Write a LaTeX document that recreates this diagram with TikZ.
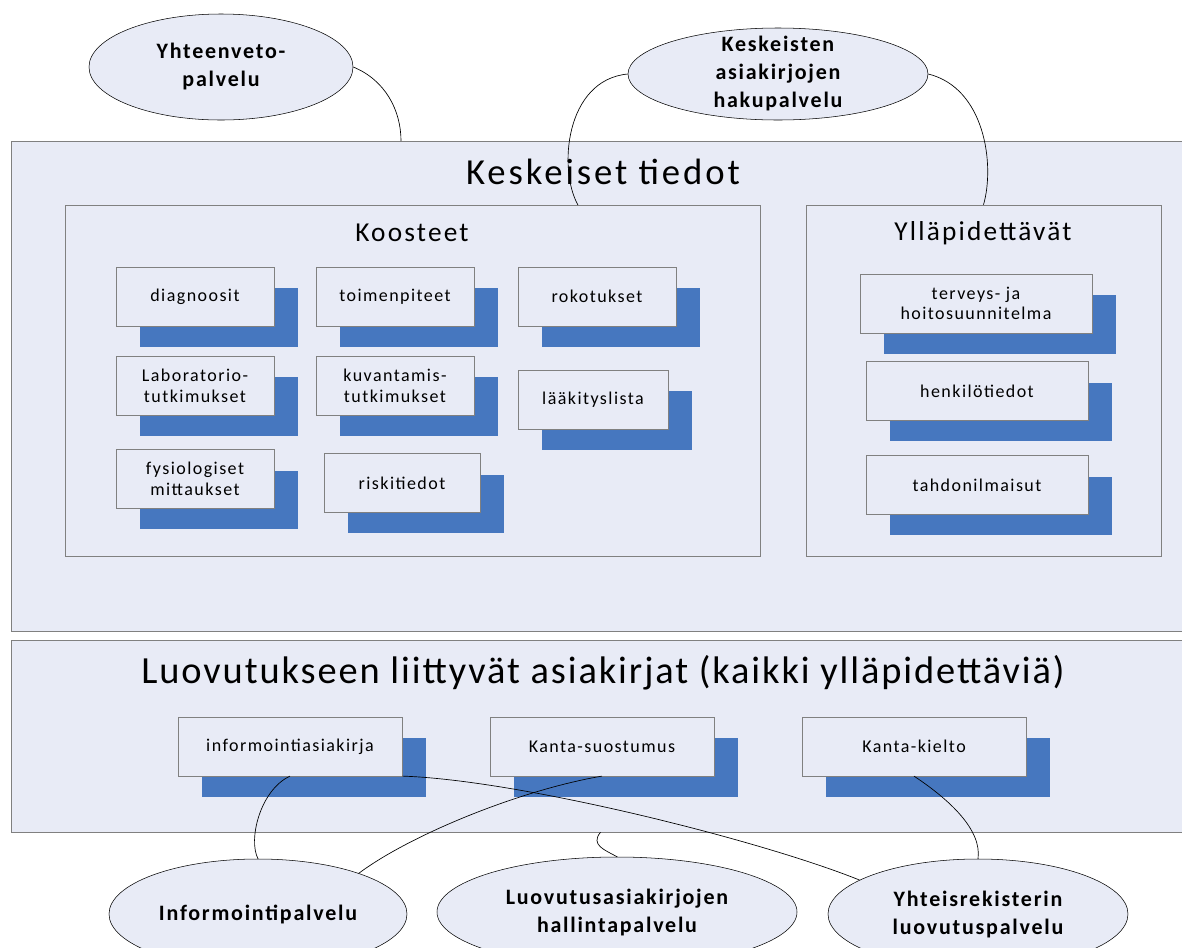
\documentclass[tikz,border=0pt]{standalone}
\usepackage{fontspec}
\setmainfont{Carlito}
\newfontfamily\spacedfont{Carlito}[LetterSpace=8]
\newfontfamily\titlefont{Carlito}[LetterSpace=5]
\usetikzlibrary{shapes.geometric,shadows}
\definecolor{paneblue}{RGB}{232,235,246}
\definecolor{shadeblue}{RGB}{70,119,191}
\definecolor{rimgray}{RGB}{128,128,128}

\begin{document}
\begin{tikzpicture}[x=0.75pt,y=0.75pt,yscale=-1,xscale=1,
    frame/.style={draw=rimgray, fill=paneblue, inner sep=0pt},
    card/.style={draw=rimgray, fill=paneblue, inner sep=1pt, align=center, minimum height=44pt, minimum width=118.5pt, font=\spacedfont\fontsize{13.5}{15.5}\selectfont, drop shadow={shadow xshift=18pt, shadow yshift=-15.75pt, fill=shadeblue, opacity=1}},
    service/.style={ellipse, draw=black, fill=paneblue, inner sep=0pt, align=center, font=\spacedfont\bfseries\fontsize{16.5}{21}\selectfont},
    heading/.style={inner sep=0pt, font=\spacedfont\fontsize{27.5}{32}\selectfont},
    subheading/.style={inner sep=0pt, font=\spacedfont\fontsize{20.5}{24}\selectfont},
    link/.style={draw=black, line width=0.5pt}]
    \useasboundingbox (0,0) rectangle (1182,947);

    %Frames
    \node[frame, minimum width=884.25pt, minimum height=367.5pt] (kesk) at (600.5,386) {};
    \node[frame, minimum width=884.25pt, minimum height=144pt] (luov) at (600.5,736) {};
    \node[frame, minimum width=521.25pt, minimum height=263.25pt] (koost) at (412.5,380.5) {};
    \node[frame, minimum width=266.25pt, minimum height=263.25pt] (yllap) at (983.5,380.5) {};

    % Text Node
    \node[heading] (keskt) at (603,172) {Keskeiset tiedot};
    \node[heading, font=\titlefont\fontsize{28.8}{32}\selectfont] (luovt) at (603,673) {Luovutukseen liittyvät asiakirjat (kaikki ylläpidettäviä)};
    \node[subheading] (koostt) at (412,233) {Koosteet};
    \node[subheading] (yllapt) at (983,233) {Ylläpidettävät};

    %Cards: Koosteet
    \node[card] (diag) at (195,296.5) {diagnoosit};
    \node[card] (toim) at (395,296.5) {toimenpiteet};
    \node[card] (roko) at (597,296.5) {rokotukset};
    \node[card] (labra) at (195,385.5) {Laboratorio-\\tutkimukset};
    \node[card] (kuva) at (395,385.5) {kuvantamis-\\tutkimukset};
    \node[card, minimum width=112.5pt] (laak) at (593,399.5) {lääkityslista};
    \node[card] (fysio) at (195,479) {fysiologiset\\mittaukset};
    \node[card, minimum width=117pt] (riski) at (402,483) {riskitiedot};

    %Cards: Ylläpidettävät
    \node[card, minimum width=174pt] (terv) at (976,303.5) {terveys- ja\\hoitosuunnitelma};
    \node[card, minimum width=166.5pt] (henk) at (977,391) {henkilötiedot};
    \node[card, minimum width=166.5pt] (tahdo) at (977,485) {tahdonilmaisut};

    %Cards: Luovutukseen liittyvät
    \node[card, minimum width=168pt] (infodoc) at (290,746.5) {informointiasiakirja};
    \node[card, minimum width=168pt] (suost) at (602,746.5) {Kanta-suostumus};
    \node[card, minimum width=168pt] (kielto) at (914,746.5) {Kanta-kielto};

    %Services
    \node[service, minimum width=198pt, minimum height=79.5pt] (yhtv) at (221,67) {Yhteenveto-\\palvelu};
    \node[service, minimum width=225pt, minimum height=69pt, inner ysep=-8pt] (haku) at (778,74) {Keskeisten\\asiakirjojen\\hakupalvelu};
    \node[service, minimum width=223.5pt, minimum height=82.5pt] (info) at (258,914) {Informointipalvelu};
    \node[service, minimum width=270pt, minimum height=82.5pt] (hall) at (617,912) {Luovutusasiakirjojen\\hallintapalvelu};
    \node[service, minimum width=225pt, minimum height=82.5pt] (yhtrek) at (978,914) {Yhteisrekisterin\\luovutuspalvelu};

    \coordinate (keskin) at (401,141);
    \coordinate (koostin) at (578,205);

    %Curves
    \draw[link] (yhtv.east) .. controls (385,80) and (401,110) .. (keskin);
    \draw[link] (haku.west) .. controls (565,80) and (558,170) .. (koostin);
    \draw[link] (haku.east) .. controls (985,88) and (995,165) .. (yllap.north);
    \draw[link] (infodoc.south) .. controls (260,790) and (248,840) .. (info.north);
    \draw[link] (suost.south) .. controls (520,790) and (410,835) .. (info.22);
    \draw[link] (infodoc.south east) .. controls (520,780) and (760,840) .. (yhtrek.164);
    \draw[link] (luov.south) .. controls (590,845) and (605,850) .. (hall.north);
    \draw[link] (kielto.south) .. controls (950,800) and (982,830) .. (yhtrek.north);

\end{tikzpicture}
\end{document}
